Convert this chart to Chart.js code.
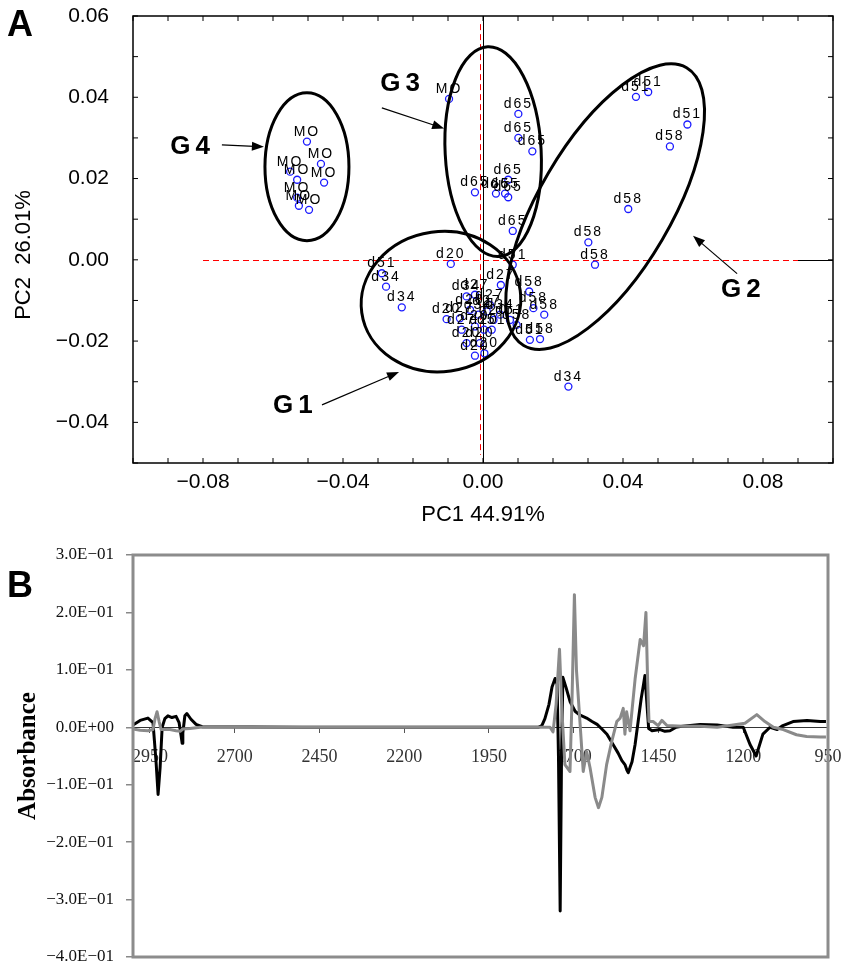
<!DOCTYPE html>
<html>
<head>
<meta charset="utf-8">
<script src="https://cdn.jsdelivr.net/npm/chart.js@4.4.1/dist/chart.umd.min.js"></script>
<style>
  body { margin: 0; background: #fff; }
  #wrap { position: relative; width: 847px; height: 969px; }
  canvas { position: absolute; left: 0; }
  #cA { top: 0; }
  #cB { top: 540px; }
</style>
</head>
<body>
<div id="wrap">
  <canvas id="cA" width="847" height="540"></canvas>
  <canvas id="cB" width="847" height="429"></canvas>
</div>
<script>
// ---- panel A: PCA scores ----
const pcLabel = ['MO','MO','MO','MO','MO','MO','MO','MO','MO',
  'd65','d65','d65','d65','d65','d65','d65','d65','d65',
  'd51','d51','d51','d58','d58','d58','d58',
  'd20','d51','d34','d34','d27','d51','d58','d58','d58','d51','d58','d34',
  'd20','d34','d27','d27','d20','d34','d27','d20','d20','d20','d20','d20','d20','d20',
  'd51','d58','d34','d27','d27','d51'];
const pc1 = [-0.0503,-0.0463,-0.0551,-0.0531,-0.0454,-0.0531,-0.0526,-0.0497,-0.0097,
  0.0101,0.0101,0.0141,-0.0023,0.0037,0.0063,0.0072,0.0072,0.0085,
  0.0437,0.0472,0.0584,0.0534,0.0415,0.0301,0.0320,
  -0.0092,-0.0289,-0.0277,-0.0232,0.0051,0.0085,0.0132,0.0144,0.0175,0.0134,0.0163,0.0244,
  -0.0104,-0.0047,-0.0023,-0.0066,-0.0037,-0.0013,0.0011,0.0030,-0.0023,0.0003,-0.0047,-0.0009,-0.0023,0.0004,
  0.0077,0.0096,0.0049,0.0020,-0.0061,0.0025];
const pc2 = [0.0291,0.0236,0.0217,0.0197,0.0190,0.0153,0.0133,0.0123,0.0396,
  0.0359,0.0300,0.0267,0.0166,0.0163,0.0163,0.0154,0.0197,0.0071,
  0.0401,0.0413,0.0333,0.0279,0.0125,0.0043,-0.0012,
  -0.0010,-0.0033,-0.0066,-0.0117,-0.0062,-0.0012,-0.0078,-0.0119,-0.0135,-0.0197,-0.0195,-0.0312,
  -0.0146,-0.0090,-0.0086,-0.0144,-0.0123,-0.0135,-0.0127,-0.0148,-0.0164,-0.0172,-0.0205,-0.0205,-0.0236,-0.0230,
  -0.0148,-0.0160,-0.0135,-0.0111,-0.0172,-0.0172];
const pcTicksX = [-0.08, -0.04, 0, 0.04, 0.08];
const pcTicksY = [-0.04, -0.02, 0, 0.02, 0.04, 0.06];

// group ellipses (centre in data units, radii in px), label and arrow
const groups = [
  { name: 'G4', cx: -0.0503, cy: 0.0229, rx: 42, ry: 74, rot: 0,
    lx: -0.0837, ly: 0.0278, from: [-0.0746, 0.0283], to: [-0.0626, 0.0278] },
  { name: 'G3', cx: 0.0029, cy: 0.0266, rx: 48, ry: 105, rot: -3,
    lx: -0.0237, ly: 0.0433, from: [-0.0289, 0.0374], to: [-0.0111, 0.0323] },
  { name: 'G2', cx: 0.0349, cy: 0.0131, rx: 161, ry: 66, rot: -59.6,
    lx: 0.0737, ly: -0.0074, from: [0.0726, -0.0034], to: [0.0600, 0.0059] },
  { name: 'G1', cx: -0.0120, cy: -0.0103, rx: 80, ry: 70, rot: -8,
    lx: -0.0543, ly: -0.0360, from: [-0.0460, -0.0357], to: [-0.0240, -0.0276] },
];

// ---- panel B: difference spectra ----
const blackWn = [3000,2979,2956,2941,2932,2926,2920,2914,2906,2897,2885,2873,2864,2858,2855,2853,2847,2841,2829,2814,
  2796,2500,2200,1900,1805,1794,1785,1773,1764,1755,1749,1745,1740,1736,1732,1723,1711,1696,1681,1662,
  1646,1631,1617,1602,1584,1569,1558,1549,1543,1539,1534,1528,1519,1510,1501,1494,1490,1484,1479,1469,
  1445,1431,1416,1398,1378,1327,1277,1230,1200,1180,1162,1142,1121,1100,1083,1053,1012,973,956];
const blackAbs = [0.004,0.012,0.016,0.008,-0.06,-0.117,-0.07,0.0,0.015,0.02,0.017,0.019,0.008,-0.015,-0.028,-0.01,0.02,0.024,0.014,0.005,
  0.001,0,0,0,0,0.003,0.015,0.04,0.07,0.085,0.075,-0.05,-0.32,-0.05,0.087,0.07,0.045,0.028,0.021,0.016,
  0.01,0.005,-0.003,-0.012,-0.03,-0.045,-0.058,-0.065,-0.075,-0.079,-0.07,-0.06,-0.03,0.01,0.05,0.075,0.09,0.04,-0.002,-0.006,
  -0.004,-0.007,-0.006,0,0.002,0.005,0.004,0,0,-0.03,-0.05,-0.012,0,-0.004,0.003,0.01,0.012,0.01,0.01];
const grayWn = [3000,2979,2956,2941,2935,2929,2923,2917,2891,2873,2861,2853,2832,2802,2500,2200,1900,1770,1761,1752,
  1742,1735,1726,1711,1705,1698,1692,1681,1672,1662,1652,1637,1627,1617,1603,1588,1573,1563,1554,1549,
  1544,1534,1528,1519,1504,1494,1487,1482,1478,1466,1451,1440,1425,1378,1327,1277,1230,1195,1160,1136,
  1111,1082,1043,1013,973,956];
const grayAbs = [-0.003,-0.005,-0.006,-0.004,0.015,0.027,0.01,-0.004,-0.004,-0.006,-0.007,-0.003,-0.002,0,0,0,0,0,-0.008,0.04,
  0.136,0.03,-0.065,-0.077,0.05,0.231,0.1,0.004,-0.077,-0.042,-0.07,-0.122,-0.14,-0.122,-0.065,-0.025,0.01,0.016,0.033,-0.012,
  0.027,-0.006,0.03,0.084,0.153,0.142,0.2,0.08,0.01,0.01,0.003,0.012,0.003,0.002,0.002,0,0.004,0.007,0.022,0.01,
  0,-0.004,-0.013,-0.016,-0.017,-0.017];
const wnTicks = [2950, 2700, 2450, 2200, 1950, 1700, 1450, 1200, 950];
const absTicks = [0.3, 0.2, 0.1, 0, -0.1, -0.2, -0.3, -0.4];

const SANS = '"Liberation Sans", Arial, sans-serif';
const SERIF = '"Liberation Serif", "Times New Roman", serif';

function fmtPc(v) {
  return (v < -1e-9 ? '\u2212' : '') + Math.abs(v).toFixed(2);
}
function fmtExp(v) {
  if (Math.abs(v) < 1e-9) return '0.0E+00';
  const s = (Math.abs(v) * 10).toFixed(1) + 'E\u221201';
  return (v < 0 ? '\u2212' : '') + s;
}

function arrow(ctx, x1, y1, x2, y2) {
  const ang = Math.atan2(y2 - y1, x2 - x1);
  const hl = 12, hw = 4.5;
  ctx.beginPath();
  ctx.moveTo(x1, y1);
  ctx.lineTo(x2 - hl * 0.8 * Math.cos(ang), y2 - hl * 0.8 * Math.sin(ang));
  ctx.stroke();
  ctx.beginPath();
  ctx.moveTo(x2, y2);
  ctx.lineTo(x2 - hl * Math.cos(ang) + hw * Math.sin(ang), y2 - hl * Math.sin(ang) - hw * Math.cos(ang));
  ctx.lineTo(x2 - hl * Math.cos(ang) - hw * Math.sin(ang), y2 - hl * Math.sin(ang) + hw * Math.cos(ang));
  ctx.closePath();
  ctx.fill();
}

const pcaDecor = {
  id: 'pcaDecor',
  beforeDatasetsDraw(chart) {
    const { ctx, chartArea: a, scales: { x, y } } = chart;
    const y0 = Math.round(y.getPixelForValue(0)) + 0.5;
    const xr = Math.round(x.getPixelForValue(-0.001)) + 0.5;
    ctx.save();
    // thin black zero line outside the dashed span
    ctx.strokeStyle = '#000';
    ctx.lineWidth = 1;
    ctx.beginPath();
    ctx.moveTo(x.getPixelForValue(0.09), y0);
    ctx.lineTo(a.right, y0);
    ctx.stroke();
    ctx.strokeStyle = '#ff0000';
    ctx.setLineDash([6, 4]);
    ctx.beginPath();
    ctx.moveTo(x.getPixelForValue(-0.08), y0);
    ctx.lineTo(x.getPixelForValue(0.09), y0);
    ctx.moveTo(xr, y.getPixelForValue(0.058));
    ctx.lineTo(xr, y.getPixelForValue(-0.048));
    ctx.stroke();
    ctx.restore();
  },
  afterDatasetsDraw(chart) {
    const { ctx, chartArea: a, scales: { x, y } } = chart;
    ctx.save();
    // point labels
    ctx.fillStyle = '#000';
    ctx.font = '14px ' + SANS;
    ctx.letterSpacing = '2px';
    ctx.textAlign = 'center';
    ctx.textBaseline = 'alphabetic';
    chart.getDatasetMeta(0).data.forEach((pt, i) => {
      ctx.fillText(pcLabel[i], pt.x, pt.y - 6);
    });
    // ellipses, arrows, group names
    ctx.strokeStyle = '#000';
    groups.forEach(g => {
      ctx.lineWidth = 3;
      ctx.beginPath();
      ctx.ellipse(x.getPixelForValue(g.cx), y.getPixelForValue(g.cy), g.rx, g.ry, g.rot * Math.PI / 180, 0, Math.PI * 2);
      ctx.stroke();
      ctx.lineWidth = 1.2;
      arrow(ctx, x.getPixelForValue(g.from[0]), y.getPixelForValue(g.from[1]),
        x.getPixelForValue(g.to[0]), y.getPixelForValue(g.to[1]));
    });
    ctx.font = 'bold 26px ' + SANS;
    ctx.letterSpacing = '5px';
    ctx.textBaseline = 'middle';
    groups.forEach(g => {
      ctx.fillText(g.name, x.getPixelForValue(g.lx) + 2.5, y.getPixelForValue(g.ly));
    });
    ctx.letterSpacing = '0px';
    // frame + inward ticks
    ctx.lineWidth = 1.5;
    ctx.strokeRect(a.left, a.top, a.right - a.left, a.bottom - a.top);
    ctx.lineWidth = 1;
    ctx.beginPath();
    for (let k = -10; k <= 10; k++) {
      const px = x.getPixelForValue(k / 100);
      ctx.moveTo(px, a.bottom); ctx.lineTo(px, a.bottom - 5);
      ctx.moveTo(px, a.top); ctx.lineTo(px, a.top + 5);
    }
    for (let k = -5; k <= 6; k++) {
      const py = y.getPixelForValue(k / 100);
      ctx.moveTo(a.left, py); ctx.lineTo(a.left + 5, py);
      ctx.moveTo(a.right, py); ctx.lineTo(a.right - 5, py);
    }
    ctx.stroke();
    // axis titles
    ctx.font = '22px ' + SANS;
    ctx.textAlign = 'center';
    ctx.textBaseline = 'middle';
    ctx.fillText('PC1 44.91%', 483, 515);
    ctx.translate(24, 255);
    ctx.rotate(-Math.PI / 2);
    ctx.fillText('PC2  26.01%', 0, 0);
    ctx.restore();
    // panel letter
    ctx.save();
    ctx.font = 'bold 36px ' + SANS;
    ctx.fillStyle = '#000';
    ctx.fillText('A', 7, 36);
    ctx.restore();
  }
};

// black zero line only for the vertical axis; horizontal handled by plugin
const zeroGridX = c => (c.tick && Math.abs(c.tick.value) < 1e-9 ? '#000' : 'rgba(0,0,0,0)');

new Chart(document.getElementById('cA'), {
  type: 'scatter',
  data: {
    datasets: [{
      data: pc1.map((v, i) => ({ x: v, y: pc2[i] })),
      pointStyle: 'circle',
      pointRadius: 3.5,
      pointBorderWidth: 1.3,
      pointBorderColor: '#1a1aff',
      pointBackgroundColor: 'rgba(255,255,255,0)',
    }],
  },
  options: {
    responsive: false,
    animation: false,
    layout: { padding: { top: 16, right: 14, left: 0, bottom: 0 } },
    plugins: { legend: { display: false }, tooltip: { enabled: false } },
    scales: {
      x: {
        type: 'linear', min: -0.1, max: 0.1,
        afterBuildTicks: s => { s.ticks = pcTicksX.map(v => ({ value: v })); },
        afterFit: s => { s.height = 77; s.paddingLeft = 0; s.paddingRight = 0; },
        ticks: { callback: fmtPc, font: { family: SANS, size: 21 }, color: '#000', padding: 7, maxRotation: 0, autoSkip: false },
        grid: { color: zeroGridX, lineWidth: 1, drawTicks: false },
        border: { display: false },
      },
      y: {
        type: 'linear', min: -0.05, max: 0.06,
        afterBuildTicks: s => { s.ticks = pcTicksY.map(v => ({ value: v })); },
        afterFit: s => { s.width = 133; s.paddingTop = 0; s.paddingBottom = 0; },
        ticks: { callback: fmtPc, font: { family: SANS, size: 21 }, color: '#000', padding: 16, autoSkip: false },
        grid: { display: false },
        border: { display: false },
      },
    },
  },
  plugins: [pcaDecor],
});

const specFrame = {
  id: 'specFrame',
  afterDatasetsDraw(chart) {
    const { ctx, chartArea: a } = chart;
    ctx.save();
    ctx.strokeStyle = '#8c8c8c';
    ctx.lineWidth = 3;
    ctx.strokeRect(a.left, a.top, a.right - a.left, a.bottom - a.top);
    ctx.font = 'bold 36px ' + SANS;
    ctx.fillStyle = '#000';
    ctx.fillText('B', 7, 57);
    ctx.restore();
  }
};

new Chart(document.getElementById('cB'), {
  type: 'line',
  data: {
    datasets: [
      {
        data: blackWn.map((w, i) => ({ x: w, y: blackAbs[i] })),
        borderColor: '#000', borderWidth: 3, pointRadius: 0, tension: 0, order: 1,
        borderJoinStyle: 'round',
      },
      {
        data: grayWn.map((w, i) => ({ x: w, y: grayAbs[i] })),
        borderColor: '#8a8a8a', borderWidth: 3, pointRadius: 0, tension: 0, order: 0,
        borderJoinStyle: 'round',
      },
    ],
  },
  options: {
    responsive: false,
    animation: false,
    layout: { padding: { top: 15, right: 19, left: 0, bottom: 12 } },
    plugins: { legend: { display: false }, tooltip: { enabled: false } },
    scales: {
      x: {
        type: 'linear', reverse: true, min: 950, max: 3000,
        position: { y: 0 },
        afterBuildTicks: s => { s.ticks = wnTicks.map(v => ({ value: v })); },
        afterFit: s => { s.height = 0; s.paddingLeft = 0; s.paddingRight = 0; },
        ticks: { callback: v => String(v), font: { family: SERIF, size: 18 }, color: '#333', padding: 14, maxRotation: 0, autoSkip: false },
        grid: { drawOnChartArea: false, drawTicks: true, tickLength: 5, color: '#555' },
        border: { display: true, color: '#333', width: 1 },
      },
      y: {
        type: 'linear', min: -0.4, max: 0.3,
        afterBuildTicks: s => { s.ticks = absTicks.map(v => ({ value: v })); },
        afterFit: s => { s.width = 133; s.paddingTop = 0; s.paddingBottom = 0; },
        ticks: { callback: fmtExp, font: { family: SERIF, size: 17 }, color: '#111', padding: 12, autoSkip: false },
        grid: { drawOnChartArea: false, drawTicks: true, tickLength: 7, color: '#888', lineWidth: 1.5 },
        border: { display: false },
        title: { display: true, text: 'Absorbance', font: { family: SERIF, size: 25, weight: 'bold' }, color: '#000', padding: { top: 14 } },
      },
    },
  },
  plugins: [specFrame],
});
</script>
</body>
</html>
